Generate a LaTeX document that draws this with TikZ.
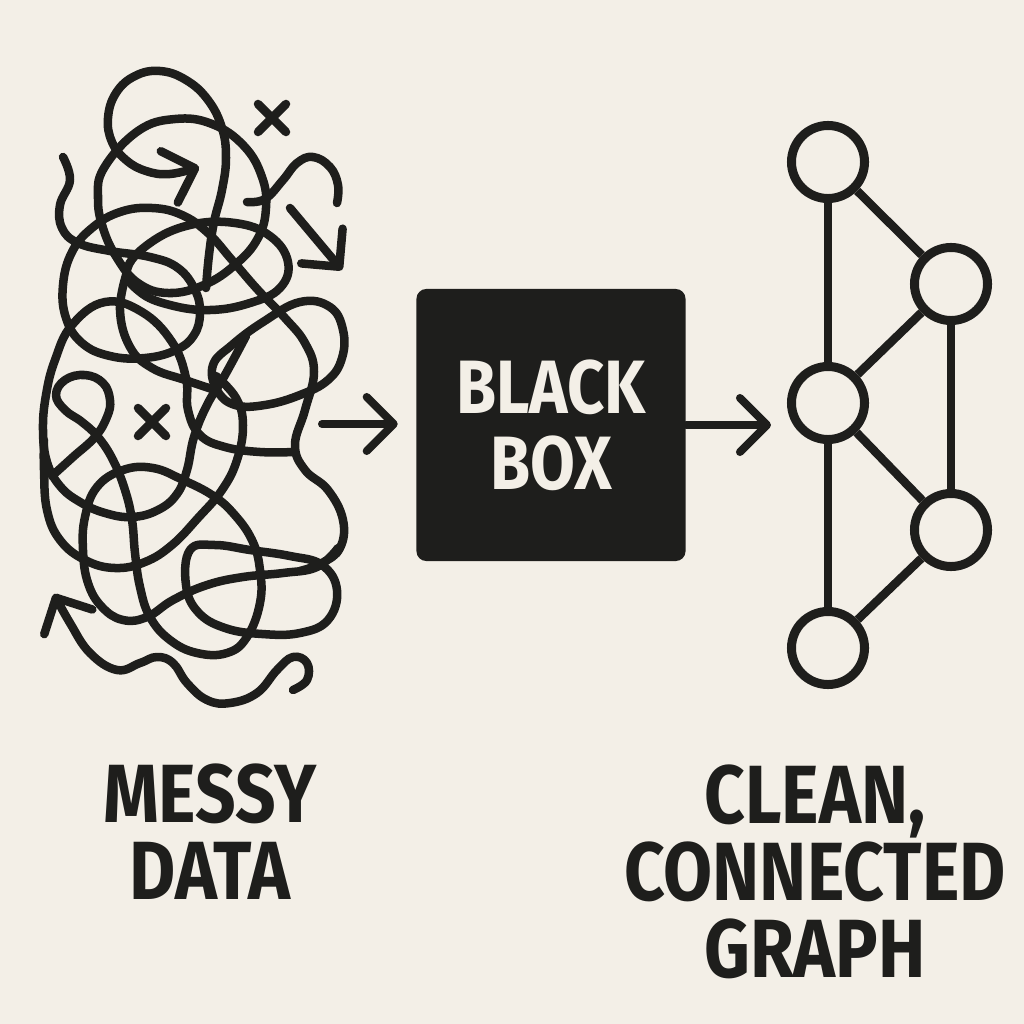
\documentclass[tikz,border=0pt]{standalone}
\usepackage{fontspec}
\newfontfamily\lblfont[FakeStretch=0.86]{Fira Sans}
\usetikzlibrary{arrows.meta}

\definecolor{paper}{HTML}{F3EFE7}
\definecolor{ink}{HTML}{1E1E1C}

\tikzset{
    barb/.tip={Straight Barb[length=0.27cm, width=0.54cm, round]},
    scrib/.style={draw=ink, line width=0.085cm, line cap=round, line join=round, tension=0.7},
    flow/.style={draw=ink, line width=0.08cm, line cap=round, -barb},
    gnode/.style={circle, draw=ink, fill=paper, line width=0.09cm, minimum size=0.73cm, inner sep=0pt},
    gedge/.style={draw=ink, line width=0.085cm},
    bbox/.style={fill=ink, rounded corners=0.1cm, minimum width=2.69cm, minimum height=2.72cm,
        text=paper, align=center, font=\lblfont\bfseries\fontsize{21.5pt}{21.6pt}\selectfont},
    lbl/.style={text=ink, align=center, font=\lblfont\bfseries\fontsize{23.5pt}{21.9pt}\selectfont},
}

\begin{document}
\begin{tikzpicture}[x=0.01cm, y=-0.01cm]
    \useasboundingbox (0,0) rectangle (1024,1024);
    \fill[paper] (0,0) rectangle (1024,1024);

    % messy data
    \draw[scrib, smooth, -barb] plot coordinates {(206,288) (209,255) (214,222) (222,190) (226,158) (222,128) (208,100) (186,80) (160,71) (135,76) (116,93) (108,118) (112,142) (126,160) (146,171) (170,174) (199,167)};
    \draw[scrib, smooth cycle] plot coordinates {(104,168) (138,131) (175,119) (212,124) (244,146) (262,177) (266,208) (258,238) (236,264) (204,285) (168,293) (138,283) (117,258) (103,228) (98,198)};
    \draw[scrib, smooth] plot coordinates {(63,157) (70,180) (60,205) (62,228) (78,243) (110,251) (150,257) (178,268) (195,290) (200,313) (194,335) (176,350) (145,358) (110,356) (82,343) (66,318) (63,285) (72,252) (92,228) (120,212) (152,208) (182,215) (208,233) (232,260) (258,290) (285,318) (305,343) (314,372) (305,410) (295,445) (305,470) (328,490) (343,520) (340,548) (322,563) (300,571)};
    \draw[scrib, smooth cycle] plot coordinates {(127,270) (150,243) (190,225) (235,223) (270,236) (288,262) (280,288) (250,303) (210,310) (170,305) (140,292)};
    \draw[scrib, smooth] plot coordinates {(127,272) (120,310) (130,347) (152,368) (185,380) (215,390)};
    \draw[scrib, smooth] plot coordinates {(294,452) (260,452) (225,447) (200,435) (188,410) (186,378) (172,342) (142,312) (105,302) (72,325) (55,360) (46,395) (43,430) (47,462) (60,486) (80,502) (105,513) (132,517) (158,510) (177,494) (187,470) (194,437) (207,405) (225,375) (246,336)};
    \draw[scrib, smooth] plot coordinates {(52,476) (73,457) (95,437) (107,417) (110,400) (103,383) (85,375) (65,380) (56,395) (65,410) (82,422) (98,437) (113,460) (125,490) (132,520) (135,553) (140,587) (150,617) (170,640) (197,653) (227,653) (247,637) (260,603) (260,570) (252,540) (233,513) (212,495) (183,480) (153,468) (123,470) (97,487) (85,517) (83,550) (88,583) (102,607) (123,620) (147,617) (173,600) (207,585) (243,577) (283,573) (317,567) (338,548)};
    \draw[scrib, smooth] plot coordinates {(44,440) (44,470) (47,510) (60,540) (85,560) (115,568) (145,562) (172,545) (198,518) (222,490) (237,460) (243,425) (236,398) (216,376)};
    \draw[scrib, smooth cycle] plot coordinates {(190,550) (215,545) (250,550) (290,556) (322,565) (337,590) (328,620) (300,633) (262,634) (225,628) (198,612) (186,585)};
    \draw[scrib, smooth cycle] plot coordinates {(217,390) (213,365) (232,345) (263,322) (300,302) (330,307) (343,330) (342,358) (328,380) (300,395) (265,405) (235,405)};
    \draw[scrib, smooth] plot coordinates {(247,202) (265,199) (283,180) (297,163) (313,157) (330,167) (338,185) (337,203)};
    \draw[scrib, -barb] (290,208) -- (342,270);
    \draw[scrib, smooth, -barb] plot coordinates {(293,690) (307,680) (307,663) (293,657) (277,670) (257,693) (230,703) (207,700) (187,683) (173,663) (157,657) (140,663) (117,670) (90,653) (70,623) (54,594)};
    \foreach \cx/\cy in {272/118, 152/422} {
        \draw[scrib] (\cx-14,\cy-14) -- (\cx+14,\cy+14) (\cx-14,\cy+14) -- (\cx+14,\cy-14);
    }

    % black box
    \coordinate (mess) at (322,424);
    \node[bbox] (box) at (551,425) {BLACK\\BOX};
    \draw[flow, shorten >=0.18cm] (mess) -- (mess -| box.west);

    % clean graph
    \node[gnode] (n1) at (828,162) {};
    \node[gnode] (n2) at (951,284) {};
    \node[gnode] (n3) at (828,403) {};
    \node[gnode] (n4) at (951,530) {};
    \node[gnode] (n5) at (828,648) {};
    \foreach \a/\b in {n1/n3, n1/n2, n2/n3, n2/n4, n3/n4, n3/n5, n4/n5} {
        \draw[gedge] (\a) -- (\b);
    }
    \draw[flow, shorten >=0.16cm] (box.east) -- (box.east -| n3.west);

    % captions
    \node[lbl] (messy) at (210,832) {MESSY\\DATA};
    \node[lbl] (clean) at (815,872) {CLEAN,\\CONNECTED\\GRAPH};
\end{tikzpicture}
\end{document}
